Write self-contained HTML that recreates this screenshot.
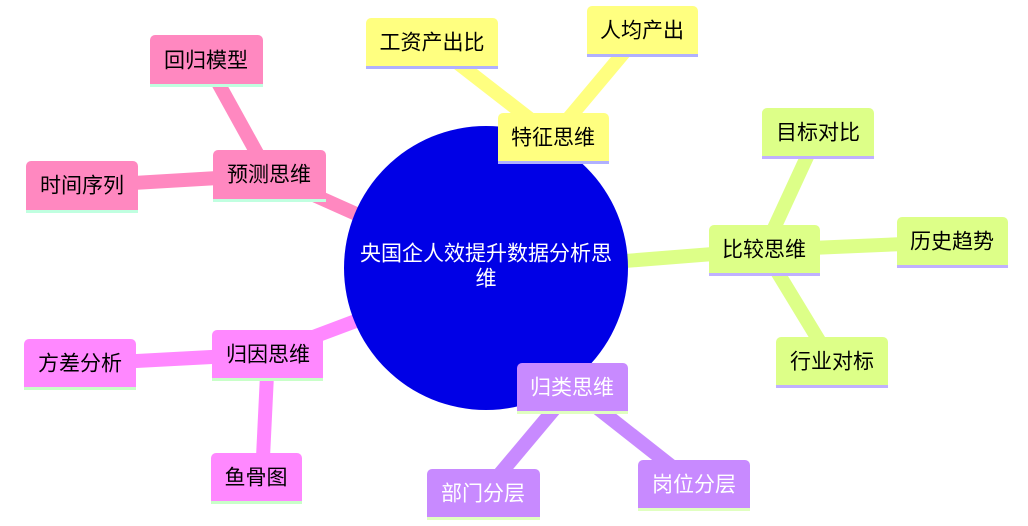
<!DOCTYPE html>
<html><head><meta charset="utf-8"><style>
html,body{margin:0;padding:0;background:#fff;width:1028px;height:526px;overflow:hidden}
svg text{font-family:"Liberation Sans","Noto Sans CJK SC",sans-serif;font-size:21px;text-anchor:middle;dominant-baseline:central}
</style></head><body>
<svg width="1028" height="526" xmlns="http://www.w3.org/2000/svg">
<g stroke-width="14" stroke-linecap="butt" fill="none">
<line x1="553" y1="137" x2="432" y2="43" stroke="#ffff80"/>
<line x1="553" y1="137" x2="642" y2="31" stroke="#ffff80"/>
<line x1="486" y1="272" x2="553" y2="137" stroke="#ffff80"/>
<line x1="764" y1="250" x2="818" y2="133" stroke="#ddff88"/>
<line x1="764" y1="250" x2="952" y2="242" stroke="#ddff88"/>
<line x1="764" y1="250" x2="832" y2="362" stroke="#ddff88"/>
<line x1="486" y1="272" x2="764" y2="250" stroke="#ddff88"/>
<line x1="572" y1="388" x2="483" y2="494" stroke="#c88aff"/>
<line x1="572" y1="388" x2="694" y2="484" stroke="#c88aff"/>
<line x1="486" y1="272" x2="572" y2="388" stroke="#c88aff"/>
<line x1="268" y1="354" x2="80" y2="364" stroke="#ff88ff"/>
<line x1="268" y1="354" x2="262" y2="478" stroke="#ff88ff"/>
<line x1="486" y1="272" x2="268" y2="354" stroke="#ff88ff"/>
<line x1="269" y1="175" x2="206" y2="61" stroke="#ff88c0"/>
<line x1="269" y1="175" x2="82" y2="186" stroke="#ff88c0"/>
<line x1="486" y1="272" x2="269" y2="175" stroke="#ff88c0"/>
</g>
<circle cx="486" cy="268" r="142" fill="#0000e6"/>
<text x="486" y="254" fill="#fff">央国企人效提升数据分析思</text>
<text x="486" y="279" fill="#fff">维</text>
<g>
<path d="M498,118a5,5 0 0 1 5,-5h101a5,5 0 0 1 5,5v44h-111z" fill="#ffff80"/><rect x="498" y="161" width="111" height="3" fill="#b0b0ff"/>
<text x="553" y="138">特征思维</text>
<path d="M366,23a5,5 0 0 1 5,-5h122a5,5 0 0 1 5,5v44h-132z" fill="#ffff80"/><rect x="366" y="66" width="132" height="3" fill="#b0b0ff"/>
<text x="432" y="43">工资产出比</text>
<path d="M587,11a5,5 0 0 1 5,-5h101a5,5 0 0 1 5,5v44h-111z" fill="#ffff80"/><rect x="587" y="54" width="111" height="3" fill="#b0b0ff"/>
<text x="642" y="31">人均产出</text>
<path d="M709,230a5,5 0 0 1 5,-5h101a5,5 0 0 1 5,5v44h-111z" fill="#ddff88"/><rect x="709" y="273" width="111" height="3" fill="#c0b0ff"/>
<text x="764" y="250">比较思维</text>
<path d="M762,113a5,5 0 0 1 5,-5h102a5,5 0 0 1 5,5v44h-112z" fill="#ddff88"/><rect x="762" y="156" width="112" height="3" fill="#c0b0ff"/>
<text x="818" y="133">目标对比</text>
<path d="M897,222a5,5 0 0 1 5,-5h101a5,5 0 0 1 5,5v44h-111z" fill="#ddff88"/><rect x="897" y="265" width="111" height="3" fill="#c0b0ff"/>
<text x="952" y="242">历史趋势</text>
<path d="M776,342a5,5 0 0 1 5,-5h102a5,5 0 0 1 5,5v44h-112z" fill="#ddff88"/><rect x="776" y="385" width="112" height="3" fill="#c0b0ff"/>
<text x="832" y="362">行业对标</text>
<path d="M517,368a5,5 0 0 1 5,-5h101a5,5 0 0 1 5,5v44h-111z" fill="#c88aff"/><rect x="517" y="411" width="111" height="3" fill="#e0ffc0"/>
<text x="572" y="388" fill="#fff">归类思维</text>
<path d="M427,474a5,5 0 0 1 5,-5h103a5,5 0 0 1 5,5v44h-113z" fill="#c88aff"/><rect x="427" y="517" width="113" height="3" fill="#e0ffc0"/>
<text x="483" y="494" fill="#fff">部门分层</text>
<path d="M638,465a5,5 0 0 1 5,-5h102a5,5 0 0 1 5,5v44h-112z" fill="#c88aff"/><rect x="638" y="508" width="112" height="3" fill="#e0ffc0"/>
<text x="694" y="485" fill="#fff">岗位分层</text>
<path d="M212,335a5,5 0 0 1 5,-5h101a5,5 0 0 1 5,5v44h-111z" fill="#ff88ff"/><rect x="212" y="378" width="111" height="3" fill="#c8ffc8"/>
<text x="268" y="355">归因思维</text>
<path d="M24,344a5,5 0 0 1 5,-5h102a5,5 0 0 1 5,5v44h-112z" fill="#ff88ff"/><rect x="24" y="387" width="112" height="3" fill="#c8ffc8"/>
<text x="80" y="364">方差分析</text>
<path d="M211,458a5,5 0 0 1 5,-5h81a5,5 0 0 1 5,5v44h-91z" fill="#ff88ff"/><rect x="211" y="501" width="91" height="3" fill="#c8ffc8"/>
<text x="256" y="478">鱼骨图</text>
<path d="M213,155a5,5 0 0 1 5,-5h103a5,5 0 0 1 5,5v44h-113z" fill="#ff88c0"/><rect x="213" y="199" width="113" height="3" fill="#c0ffe0"/>
<text x="269" y="175">预测思维</text>
<path d="M150,40a5,5 0 0 1 5,-5h103a5,5 0 0 1 5,5v44h-113z" fill="#ff88c0"/><rect x="150" y="84" width="113" height="3" fill="#c0ffe0"/>
<text x="206" y="61">回归模型</text>
<path d="M26,166a5,5 0 0 1 5,-5h102a5,5 0 0 1 5,5v44h-112z" fill="#ff88c0"/><rect x="26" y="210" width="112" height="3" fill="#c0ffe0"/>
<text x="82" y="186">时间序列</text>
</g>
</svg>
</body></html>
